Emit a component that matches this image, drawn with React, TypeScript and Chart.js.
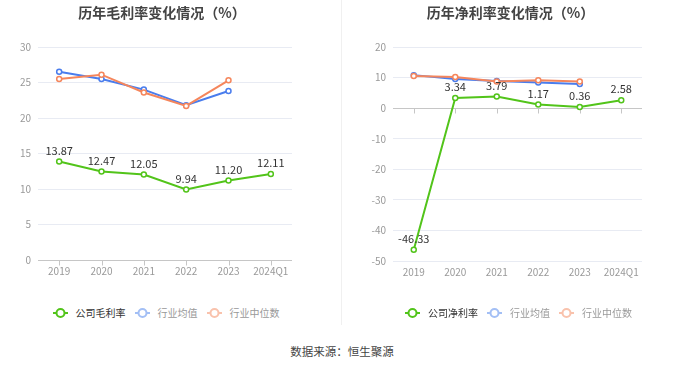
import React, { useEffect, useRef } from 'react';
import { Chart, registerables } from 'chart.js';

Chart.register(...registerables);

const years = ['2019', '2020', '2021', '2022', '2023', '2024Q1'];

const grossCompany = [13.87, 12.47, 12.05, 9.94, 11.2, 12.11];
const grossIndustryAvg = [26.5, 25.5, 24.0, 21.8, 23.8, null];
const grossIndustryMedian = [25.5, 26.1, 23.6, 21.7, 25.3, null];

const netCompany = [-46.33, 3.34, 3.79, 1.17, 0.36, 2.58];
const netIndustryAvg = [10.8, 9.5, 8.9, 8.4, 7.9, null];
const netIndustryMedian = [10.5, 10.2, 8.7, 9.1, 8.7, null];

const grossTicks = { min: 0, max: 30, step: 5 };
const netTicks = { min: -50, max: 20, step: 10 };

const GREEN = '#52c41a';
const BLUE = '#4a7ded';
const ORANGE = '#f5865c';
const FONT = '"Noto Sans CJK SC", "Noto Sans", sans-serif';

const zeroAxisPlugin = {
  id: 'zeroAxis',
  beforeDatasetsDraw(chart: any) {
    const { ctx, chartArea, scales } = chart;
    const y = Math.round(scales.y.getPixelForValue(0)) + 0.5;
    ctx.save();
    ctx.strokeStyle = '#c6c6c6';
    ctx.lineWidth = 1;
    ctx.beginPath();
    ctx.moveTo(chartArea.left, y);
    ctx.lineTo(chartArea.right, y);
    for (let i = 0; i < years.length; i++) {
      const px = Math.round(scales.x.getPixelForValue(i)) + 0.5;
      ctx.moveTo(px, y);
      ctx.lineTo(px, y + 5);
    }
    ctx.stroke();
    ctx.restore();
  },
};

const labelPlugin = {
  id: 'valueLabels',
  afterDatasetsDraw(chart: any) {
    const { ctx } = chart;
    const meta = chart.getDatasetMeta(0);
    const vals = chart.data.datasets[0].data;
    ctx.save();
    ctx.fillStyle = '#333';
    ctx.font = '11px ' + FONT;
    ctx.textAlign = 'center';
    ctx.textBaseline = 'middle';
    meta.data.forEach((pt: any, i: number) => {
      const v = vals[i];
      if (v === null || v === undefined) return;
      ctx.fillText(Number(v).toFixed(2), pt.x, pt.y - 11);
    });
    ctx.restore();
  },
};

function makeDataset(label: string, data: (number | null)[], color: string, order: number) {
  return {
    label,
    data,
    borderColor: color,
    backgroundColor: '#fff',
    borderWidth: 2,
    pointRadius: 2.5,
    pointBorderWidth: 1.5,
    pointBackgroundColor: '#fff',
    pointBorderColor: color,
    tension: 0,
    order,
    spanGaps: false,
  };
}

function LineChart(props: {
  company: number[];
  avg: (number | null)[];
  med: (number | null)[];
  companyLabel: string;
  ticks: { min: number; max: number; step: number };
  yWidth: number;
  padRight: number;
  xHeight: number;
}) {
  const ref = useRef<HTMLCanvasElement | null>(null);
  useEffect(() => {
    if (!ref.current) return;
    const chart = new Chart(ref.current, {
      type: 'line',
      data: {
        labels: years,
        datasets: [
          makeDataset(props.companyLabel, props.company, GREEN, 1),
          makeDataset('行业均值', props.avg, BLUE, 3),
          makeDataset('行业中位数', props.med, ORANGE, 2),
        ],
      },
      options: {
        animation: false,
        responsive: false,
        devicePixelRatio: 1,
        layout: { padding: { top: 47, right: props.padRight, bottom: 0, left: 0 } },
        plugins: {
          legend: { display: false },
          title: { display: false },
          tooltip: { enabled: false },
        },
        scales: {
          x: {
            type: 'category',
            offset: true,
            grid: { display: false, drawTicks: false },
            border: { display: false },
            ticks: { color: '#999', font: { size: 10, family: FONT }, padding: 5, maxRotation: 0, autoSkip: false },
            afterFit: (s: any) => {
              s.height = props.xHeight;
            },
          },
          y: {
            min: props.ticks.min,
            max: props.ticks.max,
            ticks: { stepSize: props.ticks.step, color: '#999', font: { size: 10, family: FONT }, padding: 7 },
            grid: {
              drawTicks: false,
              color: (c: any) => (c.tick && c.tick.value === 0 ? 'rgba(0,0,0,0)' : '#e8ebf3'),
              lineWidth: 1,
            },
            border: { display: false },
            afterFit: (s: any) => {
              s.width = props.yWidth;
            },
          },
        },
      } as any,
      plugins: [zeroAxisPlugin, labelPlugin],
    });
    return () => chart.destroy();
  }, []);
  return <canvas ref={ref} width={340} height={300} style={{ display: 'block', width: 340, height: 300 }} />;
}

function LegendIcon({ color }: { color: string }) {
  return (
    <svg width="15" height="12" style={{ display: 'block', marginRight: 8 }}>
      <line x1="0" y1="6" x2="15" y2="6" stroke={color} strokeWidth="2" />
      <circle cx="7.5" cy="6" r="4" fill="#fff" stroke={color} strokeWidth="2" />
    </svg>
  );
}

function Legend({ first, left, width }: { first: string; left: number; width: number }) {
  const item = (label: string, iconColor: string, textColor: string, last: boolean) => (
    <span style={{ display: 'inline-flex', alignItems: 'center', marginRight: last ? 0 : 9, color: textColor }}>
      <LegendIcon color={iconColor} />
      {label}
    </span>
  );
  return (
    <div
      style={{
        position: 'absolute',
        left,
        top: 304,
        width,
        height: 18,
        display: 'flex',
        justifyContent: 'center',
        alignItems: 'center',
        fontSize: 10,
        lineHeight: '18px',
        fontFamily: FONT,
        whiteSpace: 'nowrap',
      }}
    >
      {item(first, GREEN, '#333', false)}
      {item('行业均值', '#a3bff5', '#999', false)}
      {item('行业中位数', '#f9c2ac', '#999', true)}
    </div>
  );
}

const titleStyle: React.CSSProperties = {
  position: 'absolute',
  top: 1,
  height: 22,
  lineHeight: '22px',
  textAlign: 'center',
  fontSize: 14,
  fontWeight: 'bold',
  color: '#444',
  fontFamily: FONT,
  whiteSpace: 'nowrap',
};

export default function App() {
  return (
    <div
      style={{
        position: 'absolute',
        left: 0,
        top: 0,
        width: 680,
        height: 367,
        background: '#fff',
        overflow: 'hidden',
      }}
    >
      <div style={{ position: 'absolute', left: 0, top: 0 }}>
        <LineChart
          company={grossCompany}
          avg={grossIndustryAvg}
          med={grossIndustryMedian}
          companyLabel="公司毛利率"
          ticks={grossTicks}
          yWidth={38}
          padRight={48}
          xHeight={40}
        />
      </div>
      <div style={{ position: 'absolute', left: 340, top: 0 }}>
        <LineChart
          company={netCompany}
          avg={netIndustryAvg}
          med={netIndustryMedian}
          companyLabel="公司净利率"
          ticks={netTicks}
          yWidth={53}
          padRight={38}
          xHeight={39}
        />
      </div>
      <div style={{ ...titleStyle, left: 0, width: 324 }}>历年毛利率变化情况（%）</div>
      <div style={{ ...titleStyle, left: 340, width: 341 }}>历年净利率变化情况（%）</div>
      <div style={{ position: 'absolute', left: 341, top: 0, width: 1, height: 325, background: '#f0f0f0' }} />
      <Legend first="公司毛利率" left={0} width={332} />
      <Legend first="公司净利率" left={340} width={357} />
      <div
        style={{
          position: 'absolute',
          left: 2,
          top: 342,
          width: 680,
          textAlign: 'center',
          fontSize: 11.5,
          lineHeight: '18px',
          color: '#444',
          fontFamily: FONT,
        }}
      >
        数据来源：恒生聚源
      </div>
    </div>
  );
}
